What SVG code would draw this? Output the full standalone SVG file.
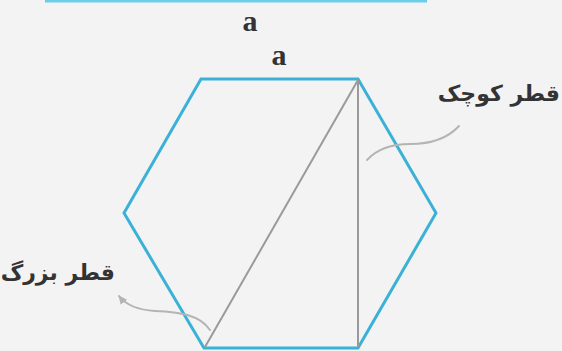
<svg xmlns="http://www.w3.org/2000/svg" width="562" height="351" viewBox="0 0 562 351">
  <style>
    .hex { fill: none; stroke: #3bb1d8; stroke-width: 3; stroke-linejoin: miter; }
    .diag { stroke: #9a9a9a; stroke-width: 2; fill: none; }
    .lead { stroke: #b4b4b4; stroke-width: 2; fill: none; stroke-linecap: round; }
    .lat { font-family: "Liberation Serif", serif; font-size: 30px; font-weight: bold; fill: #333; text-anchor: middle; }
    .fa { font-family: "DejaVu Sans", "Noto Sans", sans-serif; font-size: 22px; font-weight: bold; fill: #333; text-anchor: start; direction: rtl; }
  </style>
  <defs>
    <marker id="tip" viewBox="0 0 10 10" refX="8" refY="5" markerWidth="5" markerHeight="5" orient="auto-start-reverse">
      <path d="M0,1 L9,5 L0,9 z" fill="#b4b4b4"/>
    </marker>
  </defs>
  <rect width="562" height="351" fill="#f3f3f3"/>
  <g id="top-bar">
    <line x1="45" y1="1" x2="427" y2="1" stroke="#6ccdeb" stroke-width="3"/>
    <text class="lat" x="250" y="31">a</text>
  </g>
  <g id="hexagon">
    <polygon class="hex" points="201,79 358,79 436,213 358,348 204,348 124,213"/>
    <line class="diag" x1="358" y1="80" x2="205" y2="347"/>
    <line class="diag" x1="358" y1="80" x2="358" y2="347"/>
    <text class="lat" x="279" y="65">a</text>
  </g>
  <g id="label-small">
    <text class="fa" x="560" y="101">قطر کوچک</text>
  </g>
  <g id="label-large">
    <text class="fa" x="115" y="280">قطر بزرگ</text>
  </g>
  <g id="connectors">
    <path class="lead" d="M367,160 C378,148 392,144 410,144 C430,144 448,138 459,126"/>
    <path class="lead" d="M210,330 C200,315 180,312 155,311 C138,310 126,305 119,296" marker-end="url(#tip)"/>
  </g>
</svg>
